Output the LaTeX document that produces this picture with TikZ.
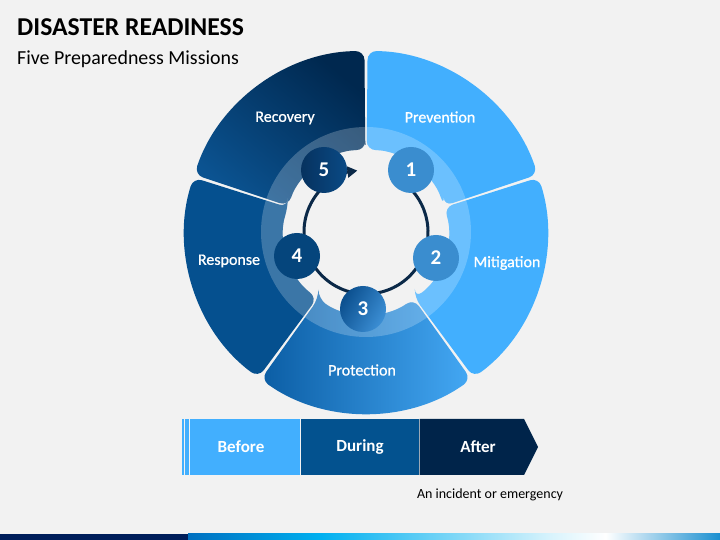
\documentclass[tikz,border=0pt]{standalone}
\usepackage{fontspec}
\setmainfont{Carlito}
\newfontfamily\lblfont[FakeBold=0.8]{Carlito}
\usetikzlibrary{arrows.meta}
\definecolor{bg}{HTML}{F2F2F2}
\definecolor{lightb}{HTML}{42AFFE}
\definecolor{respb}{HTML}{05508F}
\definecolor{recdark}{HTML}{00284F}
\definecolor{reclight}{HTML}{0B5391}
\definecolor{protdark}{HTML}{0B5DA4}
\definecolor{protlight}{HTML}{44A8F4}
\definecolor{numlight}{HTML}{3A8DCF}
\definecolor{numthreea}{HTML}{0B4F8E}
\definecolor{numthreeb}{HTML}{3C8FD5}
\definecolor{numfour}{HTML}{05457C}
\definecolor{numfivea}{HTML}{06325F}
\definecolor{numfiveb}{HTML}{0A4A85}
\definecolor{ringc}{HTML}{0B2948}
\definecolor{during}{HTML}{03528F}
\definecolor{after}{HTML}{00244A}
\definecolor{navy}{HTML}{001E5A}
\definecolor{stripa}{HTML}{0070C0}
\definecolor{stripb}{HTML}{00B0F0}
\definecolor{stripc}{HTML}{D8F3FC}
\definecolor{stripd}{HTML}{1A8FD0}
\tikzset{
  segshape/.style={rounded corners=9pt},
  numc/.style={circle, minimum size=46pt, inner sep=0pt, text=white,
    font=\bfseries\fontsize{21}{21}\selectfont},
  seglbl/.style={text=white, inner sep=0pt, font=\lblfont\fontsize{16}{16}\selectfont},
  barlbl/.style={text=white, inner sep=0pt, font=\bfseries\fontsize{17}{17}\selectfont},
  ringline/.style={draw=ringc, line width=3pt},
}
\def\seg#1#2{(#1:82pt) -- (#1:181pt) arc[start angle=#1, end angle=#2, radius=181pt] -- (#2:82pt) arc[start angle=#2, end angle=#1, radius=82pt] -- cycle}
\begin{document}
\begin{tikzpicture}[x=1pt,y=1pt]
\useasboundingbox (0,0) rectangle (720,540);
\fill[bg] (0,0) rectangle (720,540);

% title
\node[anchor=base west, inner sep=0pt, font=\bfseries\fontsize{25.7}{26}\selectfont] (title) at (17,504) {DISASTER READINESS};
\node[anchor=base west, inner sep=0pt, font=\fontsize{19.9}{20}\selectfont] (subtitle) at (17,475) {Five Preparedness Missions};

\begin{scope}[shift={(366,308)}]
  % segments
  \fill[lightb, segshape] \seg{18.5}{89.5};
  \fill[lightb, segshape] \seg{-53.5}{17.5};
  \shade[segshape, left color=protdark, right color=protlight] \seg{-125.5}{-54.5};
  \fill[respb, segshape] \seg{162.5}{233.5};
  \shade[segshape, top color=recdark, bottom color=reclight, shading angle=-40] \seg{90.5}{161.5};
  % lighter inner band
  \begin{scope}
    \clip (0,0) circle[radius=105pt];
    \fill[white, opacity=.22, segshape] \seg{18.5}{89.5};
    \fill[white, opacity=.22, segshape] \seg{-53.5}{17.5};
    \fill[white, opacity=.22, segshape] \seg{-125.5}{-54.5};
    \fill[white, opacity=.22, segshape] \seg{162.5}{233.5};
    \fill[white, opacity=.22, segshape] \seg{90.5}{161.5};
  \end{scope}
  % ring with arrow
  \draw[ringline, -{Triangle[length=10pt,width=11pt]}] (60:62pt) arc[start angle=60, end angle=-262, radius=62pt];
  % numbers
  \node[numc, fill=numlight] (n1) at (45,62) {1};
  \node[numc, fill=numlight] (n2) at (70,-26) {2};
  \node[numc, left color=numthreea, right color=numthreeb, shading angle=60] (n3) at (-3,-77) {3};
  \node[numc, fill=numfour] (n4) at (-69,-24) {4};
  \node[numc, left color=numfivea, right color=numfiveb] (n5) at (-42,62) {5};
\end{scope}

% segment labels
\node[seglbl] (prevention) at (440,423) {Prevention};
\node[seglbl] (recovery) at (285,422) {Recovery};
\node[seglbl] (mitigation) at (507,277) {Mitigation};
\node[seglbl] (response) at (229,279) {Response};
\node[seglbl] (protection) at (362,170) {Protection};

% bottom bar
\fill[lightb] (182,65) rectangle (183.7,121);
\fill[lightb] (185.3,65) rectangle (188.7,121);
\fill[lightb] (190,65) rectangle (300,121);
\fill[during] (300.8,65) rectangle (418.5,121);
\fill[after] (419.5,65) -- (524,65) -- (538,93) -- (524,121) -- (419.5,121) -- cycle;
\node[barlbl] (before) at (241,93) {Before};
\node[barlbl] (duringt) at (360,93) {During};
\node[barlbl] (aftert) at (478,93) {After};
\node[inner sep=0pt, font=\fontsize{14}{14}\selectfont] (incident) at (490,45) {An incident or emergency};

% bottom strip
\fill[navy] (0,0) rectangle (188,6);
\shade[left color=stripa, right color=stripb] (188,0) rectangle (321,6);
\shade[left color=stripb, right color=stripc] (320.5,0) rectangle (551,6);
\shade[left color=stripc, right color=white] (550.5,0) rectangle (606,6);
\shade[left color=white, right color=stripd] (605.5,0) rectangle (720,6);
\end{tikzpicture}
\end{document}
